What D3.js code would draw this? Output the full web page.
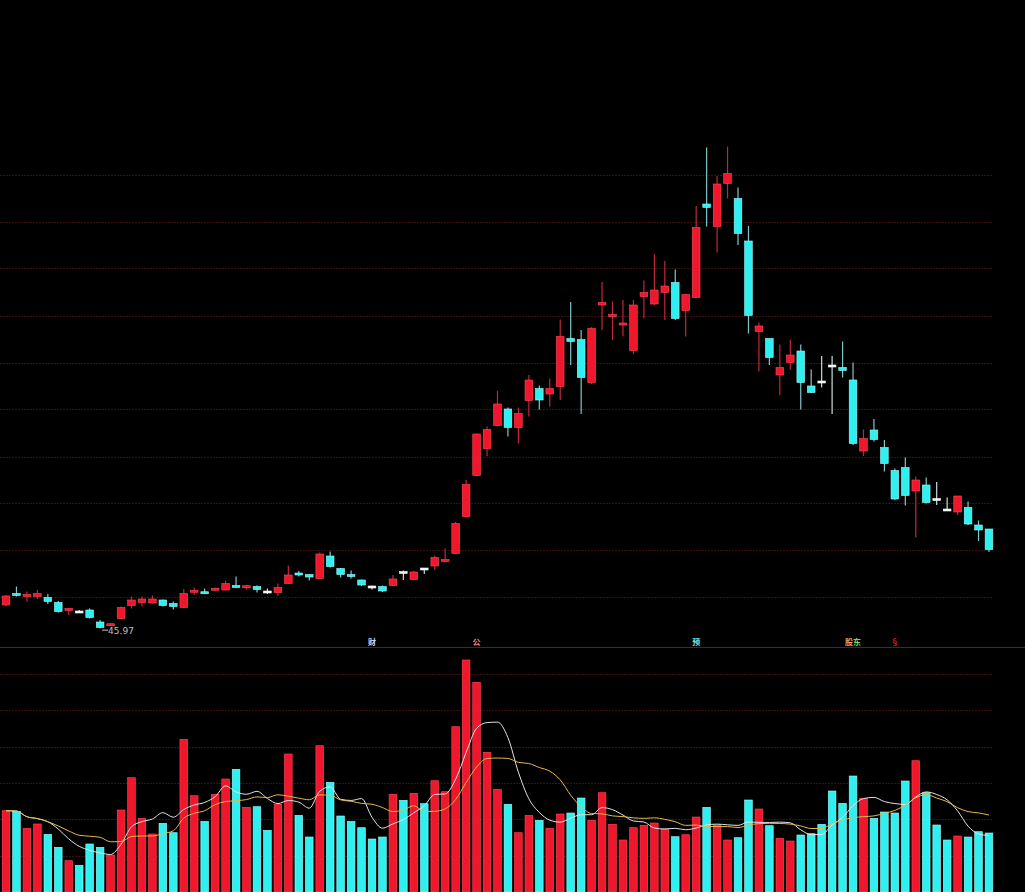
<!DOCTYPE html>
<html><head><meta charset="utf-8">
<script src="https://cdn.jsdelivr.net/npm/d3@7/dist/d3.min.js"></script>
<style>html,body{margin:0;padding:0;background:#000;}svg{display:block;}</style>
</head><body>
<svg id="chart" width="1025" height="892"></svg>
<script>
// ---- data ----
const open  = [50.6,52.8,52.3,52.3,52.1,51.1,49.5,49.2,49.6,47.2,46.5,47.9,50.5,51.1,51.0,51.6,50.9,50.1,53.3,53.1,53.6,53.6,54.5,54.1,54.3,53.2,53.1,54.9,57.0,56.7,55.9,60.4,57.9,56.7,55.6,54.2,54.3,54.5,57.1,55.7,57.8,58.4,59.3,60.9,68.3,76.5,81.9,86.5,89.8,86.1,91.5,93.9,92.8,94.3,103.9,103.7,95.1,110.6,108.3,106.6,101.5,112.3,110.8,113.1,115.1,109.5,112.1,130.8,126.3,134.9,131.9,123.4,105.3,103.9,96.6,99.1,101.4,94.4,95.2,98.4,98.1,95.6,81.4,85.6,82.1,77.5,78.1,73.4,74.6,71.7,69.6,69.2,70.1,66.6,65.8];
const high  = [52.6,54.3,53.3,53.6,52.8,51.4,50.0,49.6,49.9,47.6,47.0,50.3,52.3,52.3,52.5,51.7,51.3,53.8,54.1,53.9,54.1,55.5,56.3,54.6,54.5,53.9,54.9,58.5,57.4,56.7,61.1,61.3,58.0,57.5,55.7,54.5,54.5,56.6,57.5,57.4,58.0,60.5,61.9,67.2,75.6,84.9,86.3,93.4,90.1,90.1,96.6,94.5,95.9,107.7,111.2,105.6,106.2,115.2,111.3,111.6,111.6,115.5,120.8,119.4,117.7,112.8,130.4,142.1,136.4,142.3,134.1,126.4,107.1,103.9,102.7,103.7,102.7,97.7,100.4,100.4,103.3,99.1,85.7,87.8,83.6,77.9,80.1,76.3,76.1,75.2,72.1,72.4,71.3,67.5,65.8];
const low   = [50.4,52.3,51.3,51.8,50.8,49.1,48.6,49.1,47.9,45.97,46.4,47.8,49.9,50.3,50.9,50.3,49.7,50.0,52.6,52.8,53.3,53.5,54.0,53.7,53.1,52.8,52.4,54.8,56.3,55.5,55.8,58.1,56.1,55.9,54.4,53.7,53.2,54.4,55.6,55.6,56.8,57.6,59.2,60.8,68.2,76.4,80.4,86.3,84.3,82.9,88.3,89.7,90.3,91.6,98.6,88.8,94.8,105.6,103.6,104.3,100.8,107.9,110.6,107.6,107.6,104.3,112.0,126.3,121.1,131.9,122.6,104.9,97.3,98.6,92.6,97.6,89.7,93.0,94.1,88.8,96.1,82.6,80.4,83.3,77.3,71.6,70.5,64.1,70.9,70.6,69.5,68.6,66.6,63.4,61.2];
const close = [52.4,52.6,52.7,52.9,51.3,49.3,49.9,49.2,48.1,46.1,46.8,50.1,51.6,51.8,51.8,50.5,50.3,52.9,53.4,53.0,53.9,54.9,54.1,54.4,53.7,53.2,54.1,56.6,56.6,56.2,60.8,58.3,56.7,56.3,54.6,54.2,53.4,55.8,57.1,57.2,57.8,60.1,59.7,66.9,74.7,84.8,85.7,90.8,86.1,88.9,95.6,91.6,93.9,104.3,103.3,96.1,105.9,111.1,108.7,107.0,110.6,113.1,113.6,114.4,107.9,112.7,126.1,130.1,134.8,136.9,124.9,108.5,106.4,100.1,98.1,100.6,95.1,93.1,95.2,98.4,97.5,82.9,83.9,83.7,78.9,71.8,72.5,75.6,71.1,71.7,69.6,72.4,66.8,65.6,61.7];
const volume = [81.3,80.7,63.7,68,57.7,44.7,31.3,26.7,48,44.7,37,82,114.3,73.7,58,68.7,59.3,152.7,96.3,70.7,97.7,113,122.7,84.7,85.3,61.7,87.7,138,76.7,55,146.3,109.7,76,70.7,64.3,53,55,97.7,91.7,98.7,88.3,111.3,100.3,165.3,232,209.7,139.7,102.7,87.7,59.3,76.7,71.7,63.7,78,79,94,71.7,99.3,67.7,52,64.3,66.7,69,63,55.3,57.3,75,84.7,67,52,54.3,92,83,66.3,53.7,51,57,58.3,67.7,101,88.7,116,93.7,73.7,80,79,111,131.3,99.3,67,52,56,55,60.3,59];
const days = open.map((_, i) => i);
const priceGrid = [52.2,61.6,71.0,80.3,89.7,99.1,108.5,117.9,127.2,136.6];
const volGrid = [36.5,72.8,109.2,145.5,181.8,218.2];
const lowLabel = "45.97";
const events = [
  {i:35, t:"财", c:"#c8d4ff"},
  {i:45, t:"公", c:"#ff8a8a"},
  {i:66, t:"预", c:"#70e8e8"},
  {i:81, t:"股", c:"#f0a060", dx:-4},
  {i:81, t:"东", c:"#70d870", dx:4},
  {i:85, t:"§",  c:"#d02020"}
];
const maPeriods = [5, 10];

// ---- drawing ----
const RED = "#f0162c", RED_EDGE = "#ff4a5a";
const CYAN = "#2ef0f0", CYAN_EDGE = "#9affff";
const svg = d3.select("#chart");
svg.append("rect").attr("width",1025).attr("height",892).attr("fill","#000");

const x = d3.scaleBand().domain(days).range([0.77, 994.2]).paddingInner(0.27).paddingOuter(0.135);
const bw = x.bandwidth();
const cx = i => x(i) + bw/2;
const y = d3.scaleLinear().domain([40,150]).range([658,108]);
const yv = d3.scaleLinear().domain([0,250]).range([892,642]);

// grid lines
svg.append("g").selectAll("line").data(priceGrid).join("line")
  .attr("x1",0).attr("x2",993).attr("y1",d=>Math.round(y(d))+0.5).attr("y2",d=>Math.round(y(d))+0.5)
  .attr("stroke","#3a1212").attr("stroke-width",1).attr("stroke-dasharray","2,1");
svg.append("g").selectAll("line").data(volGrid).join("line")
  .attr("x1",0).attr("x2",993).attr("y1",d=>Math.round(yv(d))+0.5).attr("y2",d=>Math.round(yv(d))+0.5)
  .attr("stroke","#3a1212").attr("stroke-width",1).attr("stroke-dasharray","2,1");
// separator
svg.append("line").attr("x1",0).attr("x2",1025).attr("y1",647.5).attr("y2",647.5)
  .attr("stroke","#701616").attr("stroke-width",1.2);

const kind = i => close[i] > open[i] ? "up" : (close[i] < open[i] ? "down" : "flat");

// candles
const cg = svg.append("g");
cg.selectAll("line.wick").data(days).join("line").attr("class","wick")
  .attr("x1",i=>cx(i)).attr("x2",i=>cx(i))
  .attr("y1",i=>y(high[i])).attr("y2",i=>y(low[i]))
  .attr("stroke",i=>kind(i)==="up"?"#c02838":(kind(i)==="down"?"#7fc8c8":"#c8dcdc"))
  .attr("stroke-width",1.2);
cg.selectAll("rect.body").data(days).join("rect").attr("class","body")
  .attr("x",i=>x(i)).attr("width",bw)
  .attr("y",i=>{const t=y(Math.max(open[i],close[i])), b=y(Math.min(open[i],close[i])); return b-t<2 ? (t+b)/2-1 : t;})
  .attr("height",i=>Math.max(2, y(Math.min(open[i],close[i]))-y(Math.max(open[i],close[i]))))
  .attr("fill",i=>kind(i)==="up"?RED:(kind(i)==="down"?CYAN:"#e6f4f4"))
  .attr("stroke",i=>kind(i)==="up"?RED_EDGE:(kind(i)==="down"?CYAN_EDGE:"#ffffff"))
  .attr("stroke-width",0.6);

// low marker
const lowIdx = d3.minIndex(low);
svg.append("line").attr("x1",cx(lowIdx)+2).attr("y1",y(low[lowIdx])+2)
  .attr("x2",cx(lowIdx)+8).attr("y2",y(low[lowIdx])+2).attr("stroke","#c8c8c8").attr("stroke-width",1);
svg.append("text").attr("x",cx(lowIdx)+8).attr("y",y(low[lowIdx])+5.5)
  .attr("font-family","DejaVu Sans, sans-serif").attr("font-size",9).attr("fill","#c0c0c0").text(lowLabel);

// event icons
svg.append("g").selectAll("text").data(events).join("text")
  .attr("x",d=>cx(d.i)+(d.dx||0)).attr("y",645).attr("text-anchor","middle")
  .attr("font-family","Noto Sans CJK SC, sans-serif").attr("font-size",8).attr("font-weight","bold")
  .attr("fill",d=>d.c).text(d=>d.t);

// volume bars
svg.append("g").selectAll("rect").data(days).join("rect")
  .attr("x",i=>x(i)).attr("width",bw)
  .attr("y",i=>yv(volume[i])).attr("height",i=>yv(0)-yv(volume[i]))
  .attr("fill",i=>kind(i)==="up"?RED:CYAN)
  .attr("stroke",i=>kind(i)==="up"?RED_EDGE:CYAN_EDGE).attr("stroke-width",0.6);

// volume moving averages
const maColors = ["#e4e4e4","#e8b84a"];
maPeriods.forEach((p,k)=>{
  const ma = days.map(i => d3.mean(volume.slice(Math.max(0,i-p+1), i+1)));
  svg.append("path").datum(days)
    .attr("d", d3.line().x(i=>cx(i)).y(i=>yv(ma[i])).curve(d3.curveMonotoneX))
    .attr("fill","none").attr("stroke",maColors[k]).attr("stroke-width",1);
});
</script>
</body></html>
